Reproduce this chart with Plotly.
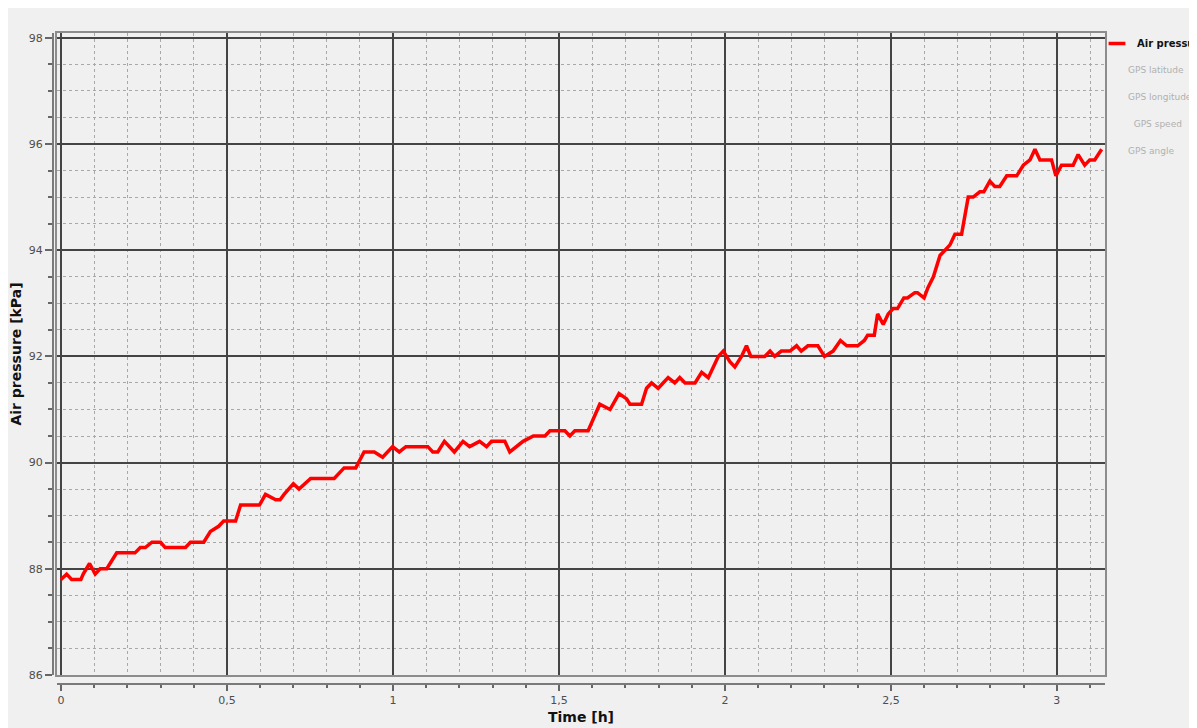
import plotly.graph_objects as go

# ---- data ----
time_h = [0, 0.017, 0.032, 0.06, 0.067, 0.086, 0.103, 0.118, 0.138, 0.168, 0.223, 0.239, 0.254,
          0.274, 0.30, 0.314, 0.375, 0.39, 0.43, 0.45, 0.475, 0.49, 0.526, 0.541, 0.598, 0.616,
          0.647, 0.66, 0.672, 0.70, 0.717, 0.752, 0.823, 0.853, 0.888, 0.913, 0.944, 0.969,
          0.999, 1.019, 1.039, 1.105, 1.12, 1.135, 1.155, 1.185, 1.211, 1.231, 1.261, 1.282,
          1.297, 1.337, 1.352, 1.372, 1.392, 1.423, 1.458, 1.473, 1.518, 1.533, 1.548, 1.588,
          1.603, 1.623, 1.654, 1.681, 1.704, 1.714, 1.749, 1.764, 1.779, 1.799, 1.829, 1.849,
          1.864, 1.88, 1.91, 1.93, 1.95, 1.965, 1.98, 1.995, 2.015, 2.03, 2.05, 2.065, 2.078,
          2.12, 2.136, 2.15, 2.17, 2.196, 2.216, 2.23, 2.25, 2.28, 2.30, 2.326, 2.348, 2.367,
          2.40, 2.42, 2.43, 2.45, 2.46, 2.477, 2.492, 2.507, 2.52, 2.539, 2.55, 2.572, 2.58,
          2.6, 2.612, 2.628, 2.648, 2.663, 2.678, 2.693, 2.713, 2.733, 2.748, 2.768, 2.78,
          2.798, 2.813, 2.828, 2.849, 2.879, 2.899, 2.919, 2.934, 2.949, 2.984, 2.997, 3.014,
          3.049, 3.064, 3.084, 3.099, 3.114, 3.135]
air_pressure_kpa = [87.8, 87.9, 87.8, 87.8, 87.9, 88.1, 87.9, 88.0, 88.0, 88.3, 88.3, 88.4, 88.4,
                    88.5, 88.5, 88.4, 88.4, 88.5, 88.5, 88.7, 88.8, 88.9, 88.9, 89.2, 89.2, 89.4,
                    89.3, 89.3, 89.4, 89.6, 89.5, 89.7, 89.7, 89.9, 89.9, 90.2, 90.2, 90.1,
                    90.3, 90.2, 90.3, 90.3, 90.2, 90.2, 90.4, 90.2, 90.4, 90.3, 90.4, 90.3,
                    90.4, 90.4, 90.2, 90.3, 90.4, 90.5, 90.5, 90.6, 90.6, 90.5, 90.6, 90.6,
                    90.8, 91.1, 91.0, 91.3, 91.2, 91.1, 91.1, 91.4, 91.5, 91.4, 91.6, 91.5,
                    91.6, 91.5, 91.5, 91.7, 91.6, 91.8, 92.0, 92.1, 91.9, 91.8, 92.0, 92.2, 92.0,
                    92.0, 92.1, 92.0, 92.1, 92.1, 92.2, 92.1, 92.2, 92.2, 92.0, 92.1, 92.3, 92.2,
                    92.2, 92.3, 92.4, 92.4, 92.8, 92.6, 92.8, 92.9, 92.9, 93.1, 93.1, 93.2, 93.2,
                    93.1, 93.3, 93.5, 93.9, 94.0, 94.1, 94.3, 94.3, 95.0, 95.0, 95.1, 95.1,
                    95.3, 95.2, 95.2, 95.4, 95.4, 95.6, 95.7, 95.9, 95.7, 95.7, 95.4, 95.6,
                    95.6, 95.8, 95.6, 95.7, 95.7, 95.9]

series_name = "Air pressure"
hidden_series = ["GPS latitude", "GPS longitude", "\u00a0\u00a0GPS speed", "GPS angle"]

x_tickvals = [0, 0.5, 1, 1.5, 2, 2.5, 3]
x_ticktext = ["0", "0,5", "1", "1,5", "2", "2,5", "3"]
y_tickvals = [86, 88, 90, 92, 94, 96, 98]
y_ticktext = ["86", "88", "90", "92", "94", "96", "98"]

# ---- figure (page body keeps its default 8px margin) ----
W, H = 1189, 720
ML, MR, MT, MB = 45, 92, 25, 44
pw, ph = W - ML - MR, H - MT - MB
xdom0 = 4 / pw
ydom0 = 9 / ph
XR = [-0.012, 3.145]
YR = [86, 98.09]

BG = "#f0f0f0"
MAJOR = "#444444"
MINOR = "#a8a8a8"
FRAME = "#8c8c8c"
RED = "#ff0000"
TICKFONT = dict(family="DejaVu Sans", size=11, color="#4e4e4e")
TITLEFONT = dict(family="DejaVu Sans", size=14, color="#111111")

fig = go.Figure()
fig.add_trace(go.Scatter(x=time_h, y=air_pressure_kpa, mode="lines",
                         name=series_name, showlegend=False,
                         line=dict(color=RED, width=3.5), legendgroup="a"))
# legend entry for the series (short line sample as in the reference)
fig.add_trace(go.Scatter(x=[None], y=[None], mode="markers", name=f"<b>{series_name}</b>",
                         marker=dict(symbol="line-ew", size=12, color=RED,
                                     line=dict(color=RED, width=3.5)),
                         legendgroup="a", legend="legend", hoverinfo="skip"))
for i, nm in enumerate(hidden_series):
    fig.add_trace(go.Scatter(x=[None], y=[None], mode="lines",
                             name=f'<span style="color:#707070">{nm}</span>',
                             line=dict(color="rgba(0,0,0,0)", width=0),
                             visible="legendonly", legendgroup=f"g{i}", legend="legend2"))
# carrier for the offset axes (no visible marks)
fig.add_trace(go.Scatter(x=[None], y=[None], xaxis="x2", yaxis="y2", mode="lines",
                         showlegend=False, hoverinfo="skip"))

fig.update_layout(
    width=W, height=H,
    paper_bgcolor=BG, plot_bgcolor=BG,
    margin=dict(l=ML, r=MR, t=MT, b=MB, autoexpand=False),
    separators=",.",
    showlegend=True,
    legend=dict(xref="container", yref="container", x=1089 / W, xanchor="left",
                y=1 - 21 / H, yanchor="top", bgcolor="rgba(0,0,0,0)",
                font=dict(family="DejaVu Sans", size=10, color="#111111"),
                itemclick=False, itemdoubleclick=False),
    legend2=dict(xref="container", yref="container", x=1080 / W, xanchor="left",
                 y=1 - 47 / H, yanchor="top", bgcolor="rgba(0,0,0,0)",
                 font=dict(family="DejaVu Sans", size=9, color="#111111"),
                 tracegroupgap=8, itemclick=False, itemdoubleclick=False),
    xaxis=dict(domain=[xdom0, 1], range=XR, anchor="y",
               tickmode="linear", tick0=0, dtick=0.5,
               showgrid=True, gridcolor=MAJOR, gridwidth=1.5,
               minor=dict(dtick=0.1, tick0=0, showgrid=True, gridcolor=MINOR,
                          gridwidth=1, griddash="dot"),
               showticklabels=False, ticks="", zeroline=False,
               showline=True, mirror=True, linecolor=FRAME, linewidth=1.5),
    yaxis=dict(domain=[ydom0, 1], range=YR, anchor="x",
               tickmode="linear", tick0=86, dtick=2,
               showgrid=True, gridcolor=MAJOR, gridwidth=1.5,
               minor=dict(dtick=0.5, tick0=86, showgrid=True, gridcolor=MINOR,
                          gridwidth=1, griddash="dot"),
               showticklabels=False, ticks="", zeroline=False,
               showline=True, mirror=True, linecolor=FRAME, linewidth=1.5),
    xaxis2=dict(domain=[xdom0, 1], range=XR, overlaying="x", anchor="free", position=0,
                side="bottom", tickmode="array", tickvals=x_tickvals, ticktext=x_ticktext,
                ticks="outside", ticklen=6, tickwidth=1.5, tickcolor="#666666",
                minor=dict(ticks="outside", ticklen=3, dtick=0.1, tick0=0, tickcolor="#666666",
                           showgrid=False),
                showgrid=False, zeroline=False, showline=True, linecolor="#7a7a7a", linewidth=2,
                tickfont=TICKFONT,
                title=dict(text="<b>Time [h]</b>", font=TITLEFONT, standoff=5)),
    yaxis2=dict(domain=[ydom0, 1], range=YR, overlaying="y", anchor="free", position=0,
                side="left", tickmode="array", tickvals=y_tickvals, ticktext=y_ticktext,
                ticks="outside", ticklen=7, tickwidth=1.5, tickcolor="#666666",
                minor=dict(ticks="outside", ticklen=4, dtick=0.5, tick0=86, tickcolor="#666666",
                           showgrid=False),
                showgrid=False, zeroline=False, showline=True, linecolor="#7a7a7a", linewidth=2,
                tickfont=TICKFONT,
                title=dict(text="<b>Air pressure [kPa]</b>", font=TITLEFONT, standoff=4)),
)

fig.write_html("out.html")
